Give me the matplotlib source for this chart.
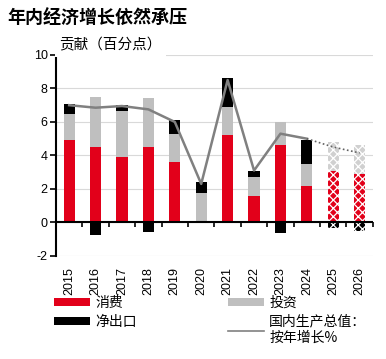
import numpy as np
import matplotlib
matplotlib.use("Agg")
import matplotlib.pyplot as plt
from matplotlib.patches import Patch
from matplotlib.lines import Line2D

plt.rcParams['font.family'] = ['Liberation Sans', 'Noto Sans CJK SC', 'DejaVu Sans']
plt.rcParams['hatch.linewidth'] = 0.9
plt.rcParams['axes.unicode_minus'] = False

years = ['2015', '2016', '2017', '2018', '2019', '2020',
         '2021', '2022', '2023', '2024', '2025', '2026']
consumption = [4.9, 4.5, 3.9, 4.5, 3.6, 0.0, 5.2, 1.55, 4.65, 2.2, 3.1, 2.9]
investment = [1.55, 3.0, 2.75, 2.9, 1.7, 1.75, 1.7, 1.15, 1.35, 1.3, 1.7, 1.75]
net_exports = [0.6, -0.75, 0.35, -0.55, 0.8, 0.65, 1.7, 0.4, -0.65, 1.45, -0.35, -0.5]
gdp = [7.0, 6.85, 6.95, 6.75, 6.0, 2.3, 8.5, 3.1, 5.3, 5.0, 4.5, 4.15]
n_actual = 10  # 2025/2026 are forecasts

red = '#E2001A'
grey = '#BFBFBF'
light_grey = '#D0D0D0'
black = '#000000'
cjk = ['Noto Sans CJK SC', 'DejaVu Sans']

fig = plt.figure(figsize=(3.86, 3.59), dpi=100)
ax = fig.add_axes([0.145, 0.287, 0.821, 0.56])

x = np.arange(len(years))
w = 0.42
cons = np.array(consumption)
inv = np.array(investment)
nx = np.array(net_exports)

for i in range(len(years)):
    fc = i >= n_actual
    pos_base = 0.0
    neg_base = 0.0
    for val, col in [(cons[i], red), (inv[i], light_grey if fc else grey), (nx[i], black)]:
        if val >= 0:
            b = pos_base
            pos_base += val
        else:
            b = neg_base
            neg_base += val
        if fc:
            ax.bar(x[i], val, w, bottom=b, color=col, edgecolor='white',
                   hatch='xxxx', linewidth=0, zorder=3)
        else:
            ax.bar(x[i], val, w, bottom=b, color=col, linewidth=0, zorder=3)

ax.plot(x[:n_actual], gdp[:n_actual], color='#808080', lw=1.8, zorder=4)
ax.plot(x[n_actual - 1:], gdp[n_actual - 1:], color='#606060', lw=1.2,
        ls=(0, (1, 1.5)), zorder=4)
ax.axhline(0, color='black', lw=1.5, zorder=3.5)

ax.set_xlim(-0.5, len(years) - 0.5)
ax.set_ylim(-2, 10)
ax.set_yticks(np.arange(-2, 11, 2))
ax.yaxis.grid(True, color='#D9D9D9', lw=0.8, zorder=0)
ax.set_axisbelow(True)

for s in ['top', 'right', 'bottom']:
    ax.spines[s].set_visible(False)
ax.spines['left'].set_linewidth(1.5)

# year labels along the bottom of the axes
ax.set_xticks(x)
ax.set_xticklabels(years, rotation=90, fontsize=9)
ax.tick_params(axis='x', which='major', length=0, pad=8)
ax.tick_params(axis='y', length=4, width=1.2, labelsize=9, pad=2)

# boundary ticks on the zero line
zero = ax.secondary_xaxis(2 / 12)
zero.spines['bottom'].set_visible(False)
zero.spines['top'].set_visible(False)
zero.set_xticks(np.arange(-0.5, len(years), 1))
zero.set_xticklabels([])
zero.tick_params(length=3.5, width=1.2, direction='out')

ax.text(0.01, 1.048, '贡献（百分点）', transform=ax.transAxes, fontsize=10.5,
        va='center', ha='left', zorder=5, family=cjk,
        bbox=dict(facecolor='white', edgecolor='none', pad=3))

fig.text(0.018, 0.95, '年内经济增长依然承压', fontsize=13, fontweight='bold',
         va='center', ha='left', family=cjk)

handles = [Patch(facecolor=red, linewidth=0), Patch(facecolor=black, linewidth=0),
           Patch(facecolor=grey, linewidth=0),
           Line2D([], [], color='#808080', lw=1.2)]
labels = ['消费', '净出口', '投资', '国内生产总值：\n按年增长%']
fig.legend(handles, labels, ncol=2, loc='upper left',
           bbox_to_anchor=(54 / 386, 1 - 296 / 359), frameon=False,
           prop={'family': cjk, 'size': 10},
           handlelength=2.6, handleheight=0.55, handletextpad=0.4,
           columnspacing=6.5, borderpad=0, borderaxespad=0, labelspacing=0.35)

fig.savefig('out.png', dpi=100)
